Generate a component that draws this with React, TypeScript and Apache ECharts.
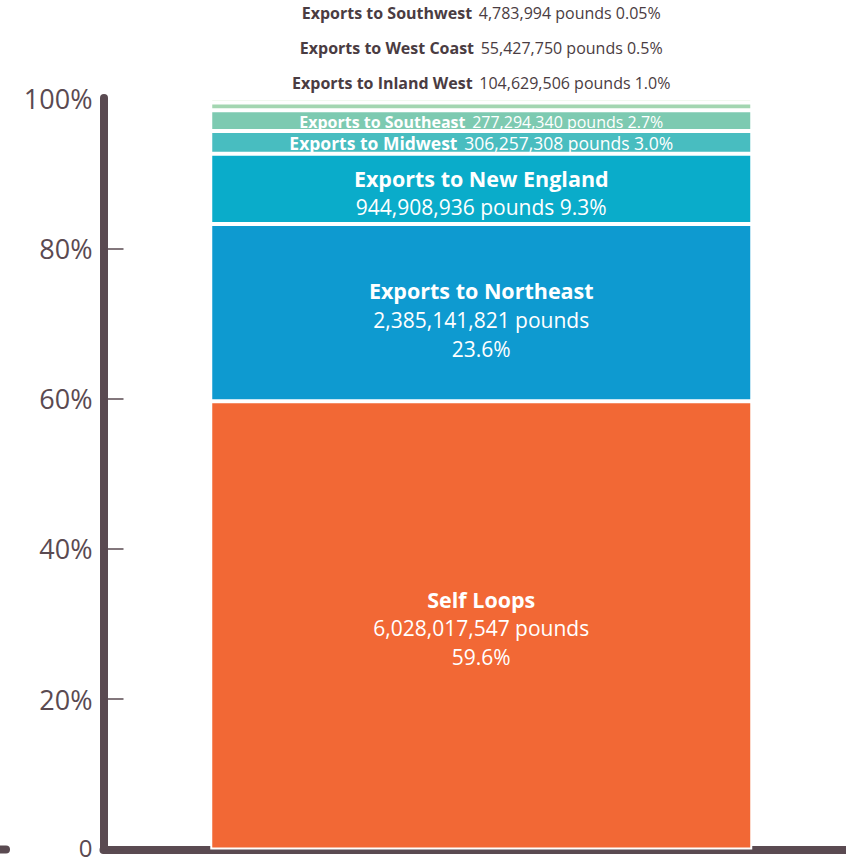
import React, { useEffect, useRef } from "react";
import * as echarts from "echarts";

const categories = ["Total"];
const seriesNames = [
  "Self Loops",
  "Exports to Northeast",
  "Exports to New England",
  "Exports to Midwest",
  "Exports to Southeast",
  "Exports to Inland West",
  "Exports to West Coast",
  "Exports to Southwest",
];
const pounds = [
  6028017547, 2385141821, 944908936, 306257308, 277294340, 104629506, 55427750, 4783994,
];
const percentLabels = ["59.6%", "23.6%", "9.3%", "3.0%", "2.7%", "1.0%", "0.5%", "0.05%"];
const yTicks = [0, 20, 40, 60, 80, 100];

const colors = ["#F26835", "#0E9AD0", "#0AACCA", "#48BDC0", "#7DCAB1", "#A3D6B1", "#C4E3BD", "#DDEDCB"];

const FONT = "'Open Sans', Lato, sans-serif";
const DARK = "#4A3C42";
const AXIS = "#5A4A51";

export default function App() {
  const ref = useRef<HTMLDivElement>(null);
  useEffect(() => {
    if (!ref.current) return;
    const chart = echarts.init(ref.current, undefined, { renderer: "svg" });
    const total = pounds.reduce((a, b) => a + b, 0);
    const pct = pounds.map((p) => (p / total) * 100);
    const fmt = (n: number) => n.toLocaleString("en-US");

    const labelFor = (i: number): any => {
      const name = seriesNames[i];
      const num = fmt(pounds[i]);
      const p = percentLabels[i];
      if (i === 0 || i === 1) {
        return {
          show: true,
          position: "inside",
          offset: [0, i === 0 ? 3 : 7],
          formatter: `{b|${name}}\n{n|${num} pounds}\n{n|${p}}`,
          rich: {
            b: { fontFamily: FONT, fontWeight: "bold", fontSize: 21.5, color: "#fff", lineHeight: 29 },
            n: { fontFamily: FONT, fontSize: 21, color: "#fff", lineHeight: 29 },
          },
        };
      }
      if (i === 2) {
        return {
          show: true,
          position: "inside",
          offset: [0, 4],
          formatter: `{b|${name}}\n{n|${num} pounds ${p}}`,
          rich: {
            b: { fontFamily: FONT, fontWeight: "bold", fontSize: 21.5, color: "#fff", lineHeight: 28 },
            n: { fontFamily: FONT, fontSize: 21, color: "#fff", lineHeight: 28 },
          },
        };
      }
      if (i === 3 || i === 4) {
        const fs = i === 3 ? 17.5 : 16;
        return {
          show: true,
          position: "inside",
          offset: [0, 1],
          formatter: `{b|${name}}  {n|${num} pounds ${p}}`,
          rich: {
            b: { fontFamily: FONT, fontWeight: "bold", fontSize: fs, color: "#fff", lineHeight: 18 },
            n: { fontFamily: FONT, fontSize: fs, color: "#fff", lineHeight: 18 },
          },
        };
      }
      const dist = i === 5 ? 10 : i === 6 ? 41 : 75;
      return {
        show: true,
        position: "top",
        distance: dist,
        formatter: `{b|${name}}  {n|${num} pounds ${p}}`,
        rich: {
          b: { fontFamily: FONT, fontWeight: "bold", fontSize: 16, color: DARK, lineHeight: 18 },
          n: { fontFamily: FONT, fontSize: 16, color: DARK, lineHeight: 18 },
        },
      };
    };

    chart.setOption({
      animation: false,
      grid: { left: 103.5, right: 0, top: 98, bottom: 14.5, containLabel: false },
      xAxis: {
        type: "category",
        data: categories,
        axisLine: { show: true, lineStyle: { color: AXIS, width: 8, cap: "round" } },
        axisTick: { show: false },
        axisLabel: { show: false },
        splitLine: { show: false },
      },
      yAxis: {
        type: "value",
        min: 0,
        max: 100,
        interval: 20,
        axisLine: { show: true, lineStyle: { color: AXIS, width: 8, cap: "round" } },
        axisTick: {
          show: true,
          inside: true,
          length: 20,
          customValues: yTicks.slice(0, 5),
          lineStyle: { color: AXIS, width: 1.5 },
        },
        splitLine: { show: false },
        axisLabel: {
          color: AXIS,
          fontFamily: FONT,
          fontSize: 27,
          lineHeight: 22,
          margin: 11,
          customValues: yTicks,
          formatter: (v: number) => (v === 0 ? "{z|0}" : `${v}%`),
          rich: {
            z: { fontFamily: FONT, fontSize: 24, lineHeight: 20, color: AXIS, padding: [0, 0, 4, 0] },
          },
        },
      },
      graphic: [
        {
          type: "line",
          shape: { x1: -4, y1: 849.5, x2: 6, y2: 849.5 },
          style: { stroke: AXIS, lineWidth: 8, lineCap: "round" },
        },
      ],
      series: seriesNames.map((name, i) => ({
        name,
        type: "bar",
        stack: "total",
        barWidth: 542,
        data: [pct[i]],
        itemStyle: { color: colors[i], borderColor: "#fff", borderWidth: 2 },
        label: labelFor(i),
      })),
    });
    return () => chart.dispose();
  }, []);
  return (
    <div style={{ position: "absolute", left: 0, top: 0, width: 846, height: 864, overflow: "hidden" }}>
      <div ref={ref} style={{ width: 859, height: 864 }} />
    </div>
  );
}
